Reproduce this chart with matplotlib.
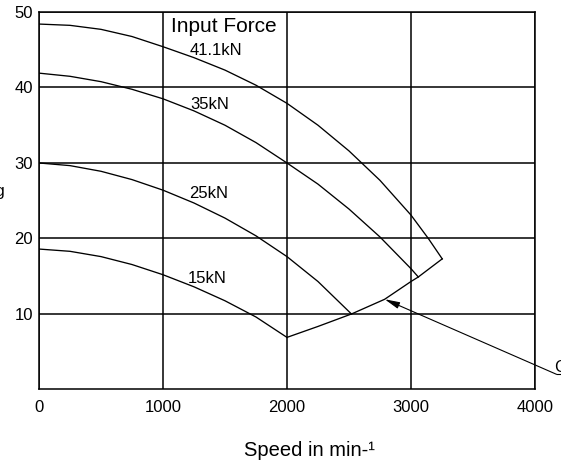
import matplotlib
matplotlib.use('Agg')
import matplotlib.pyplot as plt
import numpy as np

plt.rcParams['font.family'] = ['Liberation Sans', 'DejaVu Sans']

# curves: speed (min-1) vs. value
speed_41 = [0, 250, 500, 750, 1000, 1250, 1500, 1750, 2000, 2250, 2500,
            2750, 3000, 3140, 3252]
force_41 = [48.4, 48.23, 47.7, 46.75, 45.4, 43.95, 42.3, 40.3, 37.9, 35.0,
            31.6, 27.7, 23.1, 20.0, 17.3]

speed_35 = [0, 250, 500, 750, 1000, 1250, 1500, 1750, 2000, 2250, 2500,
            2750, 3000, 3059]
force_35 = [41.9, 41.48, 40.77, 39.76, 38.5, 36.9, 35.0, 32.7, 30.0, 27.2,
            23.9, 20.2, 16.0, 14.9]

speed_25 = [0, 250, 500, 750, 1000, 1250, 1500, 1750, 2000, 2250, 2520]
force_25 = [30.0, 29.65, 28.9, 27.8, 26.4, 24.7, 22.7, 20.35, 17.6, 14.3, 10.0]

speed_15 = [0, 250, 500, 750, 1000, 1250, 1500, 1750, 2000]
force_15 = [18.6, 18.3, 17.6, 16.55, 15.2, 13.6, 11.75, 9.6, 6.9]

# limit curve joining the curve ends
speed_lim = [2000, 2250, 2520, 2788, 3000, 3059, 3252]
force_lim = [6.9, 8.35, 10.0, 11.95, 14.3, 14.9, 17.3]

curve_labels = ['41.1kN', '35kN', '25kN', '15kN']
label_pos = [(1218, 44.3), (1218, 37.2), (1210, 25.3), (1202, 14.15)]

x_ticks = [0, 1000, 2000, 3000, 4000]
y_ticks = [10, 20, 30, 40, 50]


def main():
    fig = plt.figure(figsize=(5.61, 4.66), dpi=100)
    ax = fig.add_axes([0.0695, 0.1642, 0.8841, 0.8101])

    ax.set_xlim(0, 4000)
    ax.set_ylim(0, 50)
    ax.set_xticks(x_ticks)
    ax.set_yticks(y_ticks)
    ax.tick_params(axis='both', length=0, labelsize=12)
    ax.tick_params(axis='x', pad=7.5)
    ax.tick_params(axis='y', pad=4.3)
    ax.grid(True, color='black', lw=1.1)
    ax.set_axisbelow(True)
    for s in ax.spines.values():
        s.set_linewidth(1.1)
        s.set_color('black')

    curves = [(speed_41, force_41), (speed_35, force_35),
              (speed_25, force_25), (speed_15, force_15),
              (speed_lim, force_lim)]
    for sx, sy in curves:
        ax.plot(sx, sy, color='black', lw=0.95, solid_joinstyle='round')

    for lab, (lx, ly) in zip(curve_labels, label_pos):
        ax.text(lx, ly, lab, fontsize=12, ha='left', va='baseline')
    ax.text(1492, 47.4, 'Input Force', fontsize=15, ha='center', va='baseline')

    # leader pointing at the limit curve
    ax.annotate('', xy=(2788, 11.95), xytext=(4175, 2.0),
                arrowprops=dict(arrowstyle='-|>,head_length=0.9,head_width=0.2',
                                color='black', lw=0.8, shrinkA=0, shrinkB=0,
                                mutation_scale=10),
                annotation_clip=False)
    ax.plot([4175, 4400], [2.0, 2.0], color='black', lw=0.8, clip_on=False)
    ax.text(4161, 2.36, 'Critical limit', fontsize=12, ha='left',
            va='baseline', clip_on=False)

    fig.text(309 / 561, 1 - 450.7 / 466, 'Speed in min-\u00b9', fontsize=14.5,
             ha='center', va='center')
    fig.text(5 / 561, 1 - 195.7 / 466, 'Force in kg', fontsize=12,
             ha='right', va='baseline')

    fig.savefig('out.png', dpi=100)


if __name__ == "__main__":
    main()
